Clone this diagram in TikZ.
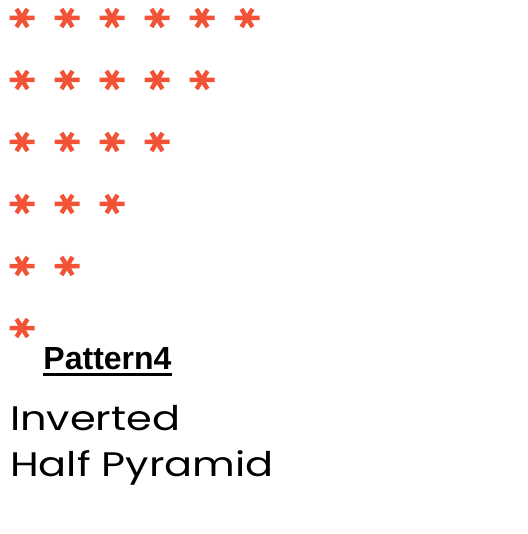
\documentclass[tikz,border=0pt]{standalone}
\usepackage{fontspec}
\setmainfont{Liberation Sans}
\newfontfamily\geofont{Poppins}
\definecolor{starred}{HTML}{F25235}
\begin{document}
\begin{tikzpicture}[x=1pt,y=-1pt,
  star/.pic={\draw[starred,line width=4.5pt] (-12.5,0)--(12.5,0) (-5.5,-9)--(5.5,9) (5.5,-9)--(-5.5,9);},
  title/.style={inner sep=0pt,anchor=base,font=\fontsize{32}{34}\selectfont\bfseries},
  sub/.style={inner sep=0pt,anchor=base west,font=\geofont\fontsize{34}{38}\selectfont}]
\useasboundingbox (0,0) rectangle (527,534);
\foreach \r in {0,...,5}{
  \pgfmathtruncatemacro{\n}{5-\r}
  \foreach \c in {0,...,\n}{
    \pic at ({22+45*\c},{18+62*\r}) {star};
  }
}
\node[title] (t) at (107.5,369) {Pattern4};
\draw[line width=3pt] (t.base west) ++(0,5.5) -- ++(129,0);
\node[sub] (s1) at (10,430) {\scalebox{1.22}[1]{Inverted}};
\node[sub] (s2) at (10,476) {\scalebox{1.22}[1]{Half Pyramid}};
\end{tikzpicture}
\end{document}
